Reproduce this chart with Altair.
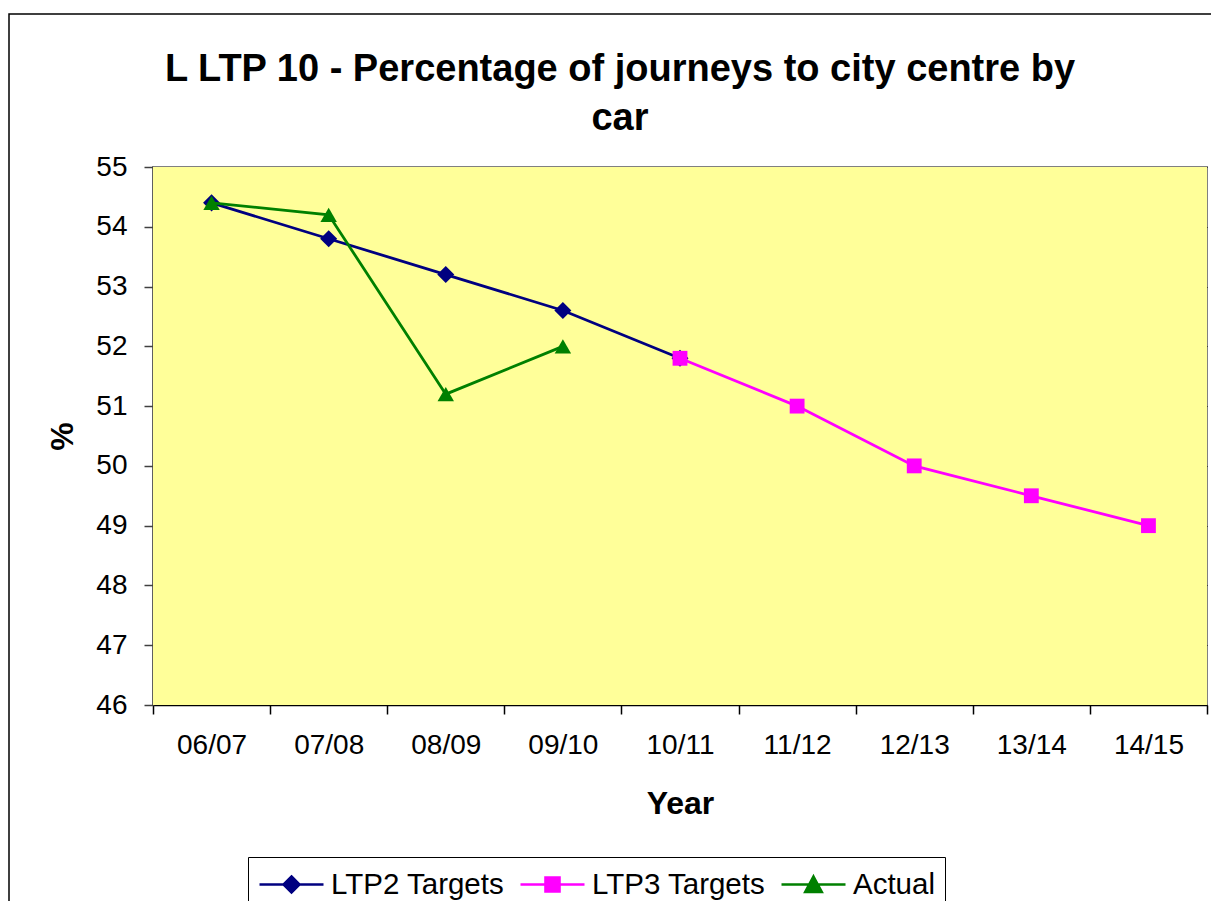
import altair as alt
import pandas as pd

# ---- data ----
years = ["06/07", "07/08", "08/09", "09/10", "10/11", "11/12", "12/13", "13/14", "14/15"]
ltp2 = [54.4, 53.8, 53.2, 52.6, 51.8, None, None, None, None]
ltp3 = [None, None, None, None, 51.8, 51.0, 50.0, 49.5, 49.0]
actual = [54.4, 54.2, 51.2, 52.0, None, None, None, None, None]
y_ticks = [46, 47, 48, 49, 50, 51, 52, 53, 54, 55]

series_names = ["LTP2 Targets", "LTP3 Targets", "Actual"]
series_values = [ltp2, ltp3, actual]
series_colors = ["#000080", "#FF00FF", "#008000"]
marker_shapes = ["diamond", "square", "triangle-up"]
marker_sizes = [290, 220, 270]
# legend symbols: a short line with the marker in the middle
legend_shapes = [
    "M-2,0H2M0,-0.5L0.5,0L0,0.5L-0.5,0Z",
    "M-2,0H2M-0.44,-0.44H0.44V0.44H-0.44Z",
    "M-2,0H2M0,-0.5L0.52,0.47H-0.52Z",
]

rows = []
for name, vals in zip(series_names, series_values):
    for yr, v in zip(years, vals):
        if v is not None:
            rows.append({"year": yr, "value": v, "series": name})
df = pd.DataFrame(rows)

FONT = "Liberation Sans"

x_enc = alt.X(
    "year:N",
    sort=years,
    bandPosition=0.5,
    scale=alt.Scale(type="band", domain=years, paddingInner=0, paddingOuter=0),
    axis=alt.Axis(
        title="Year",
        tickBand="extent",
        labelAngle=0,
        labelFont=FONT,
        labelFontSize=28,
        labelColor="black",
        labelPadding=17,
        tickSize=9,
        tickColor="black",
        tickWidth=1.5,
        domainColor="black",
        domainWidth=1.5,
        grid=False,
        titleFont=FONT,
        titleFontSize=32,
        titleFontWeight="bold",
        titleColor="black",
        titleX=527,
        titleY=98,
        titleAlign="center",
        titleBaseline="middle",
    ),
)
y_enc = alt.Y(
    "value:Q",
    scale=alt.Scale(domain=[46, 55], nice=False, zero=False),
    axis=alt.Axis(
        title="%",
        values=y_ticks,
        format="d",
        labelFont=FONT,
        labelFontSize=28,
        labelColor="black",
        labelPadding=17,
        tickSize=9,
        tickColor="#404040",
        tickWidth=1.5,
        domainColor="#404040",
        domainWidth=2,
        grid=True,
        gridColor="black",
        gridWidth=1,
        titleFont=FONT,
        titleFontSize=32,
        titleFontWeight="bold",
        titleColor="black",
        titleAngle=270,
        titleX=-91,
        titleY=269,
        titleAlign="center",
        titleBaseline="middle",
    ),
)

one_row = pd.DataFrame({"k": [0]})

# yellow plot-area background
background = alt.Chart(one_row).mark_rect(color="#FFFF99").encode(
    x=alt.value(0), x2=alt.value("width"), y=alt.value(0), y2=alt.value("height")
)

layers = []
for name, col, shp, sz in zip(series_names, series_colors, marker_shapes, marker_sizes):
    base = alt.Chart(df).transform_filter(alt.datum.series == name)
    layers.append(base.mark_line(color=col, strokeWidth=2.8).encode(x=x_enc, y=y_enc))
    layers.append(
        base.mark_point(filled=True, shape=shp, size=sz, color=col, opacity=1).encode(x=x_enc, y=y_enc)
    )

legend_df = pd.DataFrame({"series": series_names})
leg = alt.Legend(
    title=None,
    orient="none",
    legendX=95,
    legendY=690,
    direction="horizontal",
    labelFont=FONT,
    labelFontSize=29.5,
    labelColor="black",
    labelLimit=400,
    symbolSize=1024,
    symbolStrokeWidth=2.5,
    symbolOffset=16,
    symbolOpacity=1,
    labelOffset=22,
    padding=10,
    columnPadding=10,
    strokeColor="black",
    fillColor="white",
)
color_scale = alt.Scale(domain=series_names, range=series_colors)
legend_layer = alt.Chart(legend_df).mark_point(filled=True, opacity=0).encode(
    color=alt.Color("series:N", scale=color_scale, legend=leg),
    stroke=alt.Stroke("series:N", scale=color_scale, legend=leg),
    shape=alt.Shape("series:N", scale=alt.Scale(domain=series_names, range=legend_shapes), legend=leg),
)

# outer chart-area border
frame = alt.Chart(one_row).mark_rect(
    fill="transparent", fillOpacity=0, stroke="black", strokeWidth=1.5
).encode(x=alt.value(-144), y=alt.value(-153), x2=alt.value(1110), y2=alt.value(800))

chart = alt.layer(background, *layers, legend_layer, frame).properties(
    width=1054,
    height=538,
    autosize=alt.AutoSizeParams(type="none"),
    padding={"left": 145, "top": 159, "right": 4, "bottom": 196},
    title=alt.TitleParams(
        text=["L LTP 10 - Percentage of journeys to city centre by", "car"],
        font=FONT,
        fontSize=38,
        fontWeight="bold",
        color="black",
        anchor="middle",
        dx=-60,
        dy=155,
        offset=30,
        lineHeight=49,
    ),
).configure_view(fill="#FFFF99", stroke="#808080", strokeWidth=2)

chart.save("out.html", embed_options={"renderer": "svg", "actions": False})
